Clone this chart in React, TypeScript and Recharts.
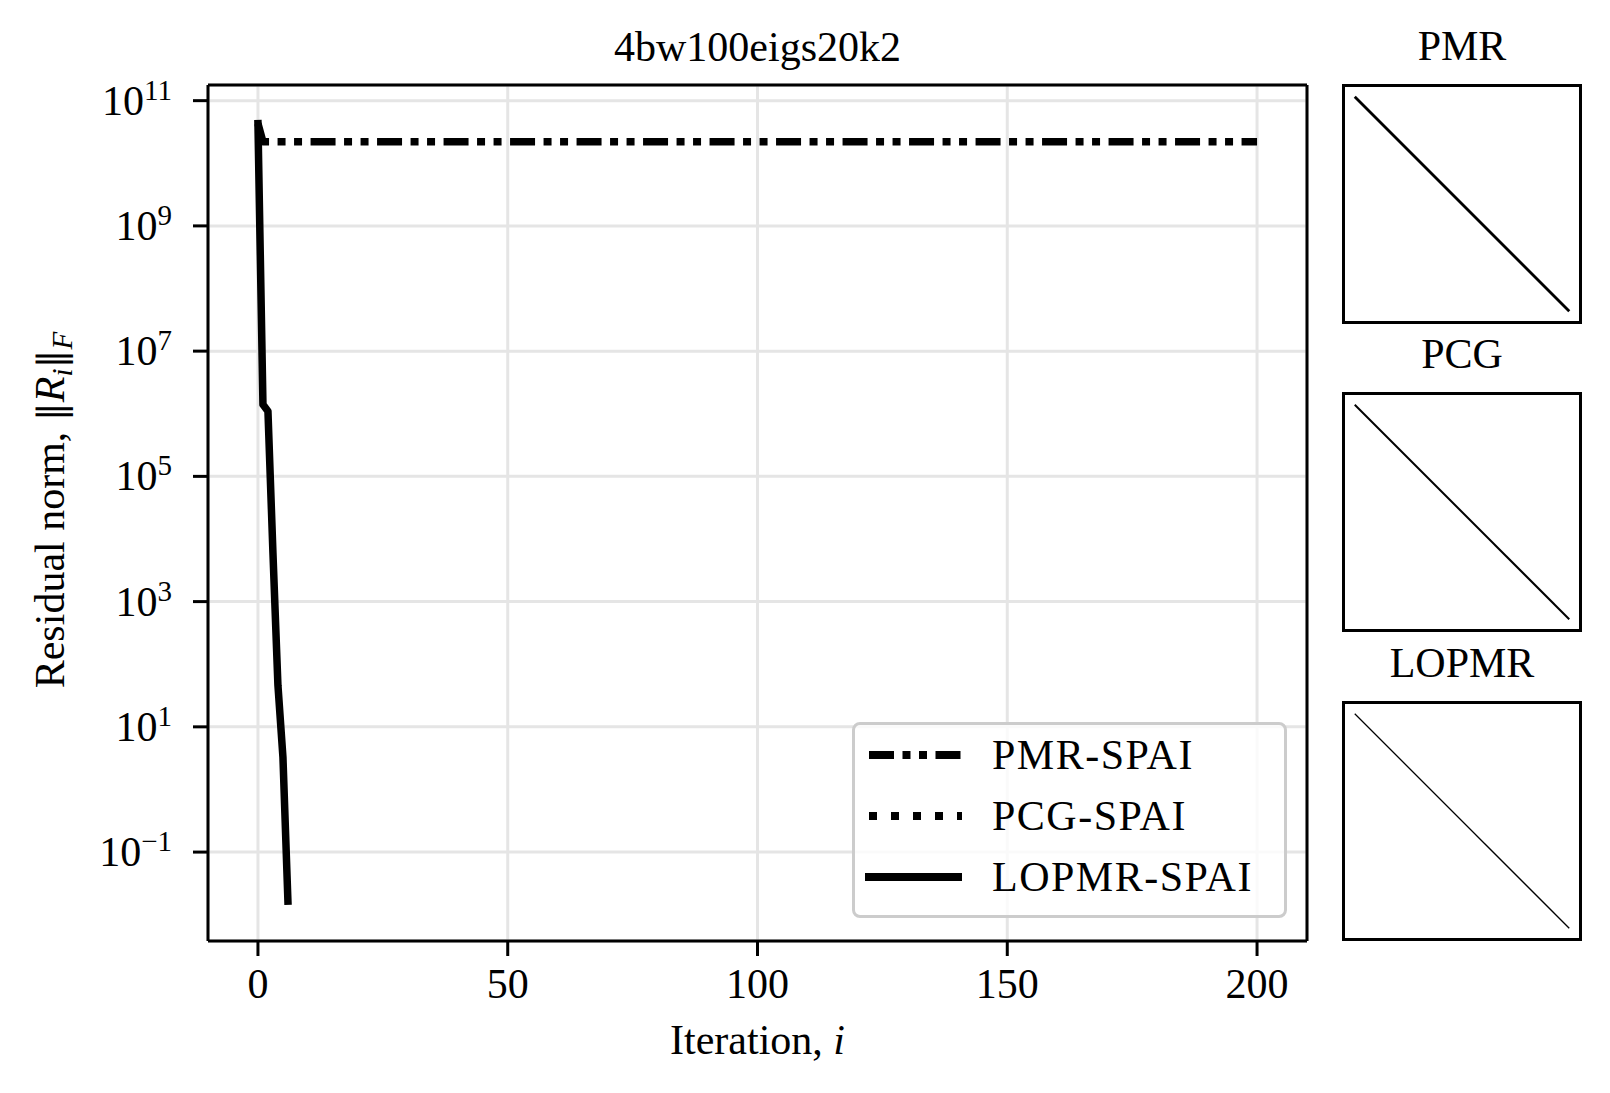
import { LineChart, Line, XAxis, YAxis, CartesianGrid, Legend, ReferenceLine } from "recharts";

// iteration axis
const iterTicks = [0, 50, 100, 150, 200];
const iterDomain = [-10, 210];

// residual axis (log)
const residTicks = [1e-1, 1e1, 1e3, 1e5, 1e7, 1e9, 1e11];
const residDomain = [Math.pow(10, -2.42), Math.pow(10, 11.25)];

// PMR-SPAI stalls right after the first step
const pmrIter = [0, 1, 200];
const pmrResid = [4.3e10, 2.2e10, 2.2e10];

// PCG-SPAI has no finite values
const pcgIter: number[] = [];
const pcgResid: number[] = [];

// LOPMR-SPAI converges in a few iterations
const lopmrIter = [0, 1, 2, 3, 4, 5, 6];
const lopmrResid = [4.3e10, 1.4e6, 1.1e6, 6.0e3, 4.6e1, 3.3, 1.65e-2];

// sparsity pattern panels (diagonal preconditioners)
const spyNames = ["PMR", "PCG", "LOPMR"];
const spyLineWidths = [2.8, 2, 1.3];
const spySize = 12;
const spyDiag = [0, 11];

const FONT = "'Liberation Serif', 'DejaVu Serif', serif";

const PLOT = { left: 208, top: 85, right: 1307, bottom: 941 };

const series = [
  { name: "PMR-SPAI", iter: pmrIter, resid: pmrResid, dash: "25 8.5 8 8.5 8 8.5", cap: "butt" },
  { name: "PCG-SPAI", iter: pcgIter, resid: pcgResid, dash: "8 14", cap: "butt" },
  { name: "LOPMR-SPAI", iter: lopmrIter, resid: lopmrResid, dash: undefined, cap: "square" },
];

const toRows = (iter: number[], resid: number[]) => iter.map((i, k) => ({ i, r: resid[k] }));

function YTick({ x, y, payload }: any) {
  const exp = Math.round(Math.log10(payload.value));
  return (
    <text x={x} y={y + 14} textAnchor="end" fontFamily={FONT} fontSize={42} fill="#000">
      10
      <tspan dy={-15} fontSize={29}>
        {exp < 0 ? `\u2212${-exp}` : `${exp}`}
      </tspan>
    </text>
  );
}

function XTick({ x, y, payload }: any) {
  return (
    <text x={x} y={y + 30} textAnchor="middle" fontFamily={FONT} fontSize={42} fill="#000">
      {payload.value}
    </text>
  );
}

const xLabel = () => (
  <text x={(PLOT.left + PLOT.right) / 2} y={1054} textAnchor="middle" fontFamily={FONT} fontSize={42} fill="#000">
    Iteration, <tspan fontStyle="italic">i</tspan>
  </text>
);

const yLabel = () => {
  const cx = 64;
  const cy = 510;
  return (
    <text
      x={cx}
      y={cy}
      transform={`rotate(-90, ${cx}, ${cy})`}
      textAnchor="middle"
      fontFamily={FONT}
      fontSize={42}
      fill="#000"
    >
      Residual norm, <tspan fontFamily="'DejaVu Serif', serif" fontSize={38}>‖</tspan>
      <tspan fontStyle="italic">R</tspan>
      <tspan fontStyle="italic" fontSize={29} dy={8}>i</tspan>
      <tspan dy={-8} fontFamily="'DejaVu Serif', serif" fontSize={38}>‖</tspan>
      <tspan fontStyle="italic" fontSize={29} dy={8}>F</tspan>
    </text>
  );
};

function LegendBox() {
  return (
    <div
      style={{
        position: "relative",
        width: "100%",
        height: "100%",
        boxSizing: "border-box",
        border: "3px solid #cccccc",
        borderRadius: 8,
        background: "rgba(255,255,255,0.8)",
        fontFamily: FONT,
        fontSize: 42,
      }}
    >
      {series.map((s, k) => {
        const cy = 30 + k * 61;
        return (
          <div key={s.name}>
            <svg style={{ position: "absolute", left: 10, top: cy - 10 }} width={97} height={20}>
              <line
                x1={4}
                x2={s.cap === "square" ? 93 : 97}
                y1={10}
                y2={10}
                stroke="#000"
                strokeWidth={8}
                strokeDasharray={s.dash}
                strokeLinecap={s.cap as any}
              />
            </svg>
            <div
              style={{
                position: "absolute",
                left: 137,
                top: cy - 21,
                lineHeight: "42px",
                whiteSpace: "nowrap",
                letterSpacing: 1.5,
              }}
            >
              {s.name}
            </div>
          </div>
        );
      })}
    </div>
  );
}

function SpyPanel({ name, top, lw }: { name: string; top: number; lw: number }) {
  const rows = spyDiag.map((k) => ({ col: k, row: k }));
  return (
    <div
      style={{
        position: "absolute",
        left: 1342,
        top,
        width: 240,
        height: 240,
        border: "3px solid #000",
        boxSizing: "border-box",
      }}
    >
      <div
        style={{
          position: "absolute",
          top: -62,
          left: 0,
          width: "100%",
          textAlign: "center",
          fontFamily: FONT,
          fontSize: 42,
          lineHeight: "42px",
          whiteSpace: "nowrap",
        }}
      >
        {name}
      </div>
      <LineChart width={234} height={234} data={rows} margin={{ top: 0, right: 0, bottom: 0, left: 0 }}>
        <XAxis dataKey="col" type="number" domain={[-0.5, spySize - 0.5]} hide />
        <YAxis type="number" domain={[-0.5, spySize - 0.5]} reversed hide />
        <Line dataKey="row" stroke="#000" strokeWidth={lw} dot={false} isAnimationActive={false} />
      </LineChart>
    </div>
  );
}

export default function App() {
  const spyTops = [84, 392, 701];
  return (
    <div style={{ position: "relative", width: 1610, height: 1093, margin: -8, background: "#fff" }}>
      <div
        style={{
          position: "absolute",
          left: PLOT.left,
          top: 26,
          width: PLOT.right - PLOT.left,
          textAlign: "center",
          fontFamily: FONT,
          fontSize: 42,
          lineHeight: "42px",
          whiteSpace: "nowrap",
        }}
      >
        4bw100eigs20k2
      </div>
      <div style={{ position: "absolute", left: 0, top: 0 }}>
        <LineChart
          width={1610}
          height={1093}
          margin={{ top: PLOT.top, right: 1610 - PLOT.right, bottom: 1093 - PLOT.bottom - 120, left: PLOT.left - 150 }}
        >
          <CartesianGrid stroke="#e5e5e5" strokeWidth={3} />
          <XAxis
            dataKey="i"
            type="number"
            domain={iterDomain}
            ticks={iterTicks}
            allowDataOverflow
            height={120}
            tickSize={15}
            tickMargin={12}
            tickLine={{ stroke: "#000", strokeWidth: 3 }}
            axisLine={{ stroke: "#000", strokeWidth: 3 }}
            tick={<XTick />}
            label={xLabel}
          />
          <YAxis
            dataKey="r"
            scale="log"
            type="number"
            domain={residDomain}
            ticks={residTicks}
            allowDataOverflow
            width={150}
            tickSize={15}
            tickMargin={21}
            tickLine={{ stroke: "#000", strokeWidth: 3 }}
            axisLine={{ stroke: "#000", strokeWidth: 3 }}
            tick={<YTick />}
            label={yLabel}
          />
          {series.map((s) => (
            <Line
              key={s.name}
              name={s.name}
              data={toRows(s.iter, s.resid)}
              dataKey="r"
              type="linear"
              stroke="#000"
              strokeWidth={7.5}
              strokeDasharray={s.dash}
              strokeLinecap={s.cap as any}
              strokeLinejoin="round"
              dot={false}
              isAnimationActive={false}
            />
          ))}
          {/* top and right spines */}
          <ReferenceLine x={iterDomain[1]} stroke="#000" strokeWidth={3} ifOverflow="visible" />
          <ReferenceLine y={residDomain[1]} stroke="#000" strokeWidth={3} ifOverflow="visible" />
          <Legend
            layout="vertical"
            align="center"
            verticalAlign="middle"
            wrapperStyle={{ left: 852, top: 722, width: 435, height: 196 }}
            content={<LegendBox />}
          />
        </LineChart>
      </div>
      {spyNames.map((n, k) => (
        <SpyPanel key={n} name={n} top={spyTops[k]} lw={spyLineWidths[k]} />
      ))}
    </div>
  );
}
